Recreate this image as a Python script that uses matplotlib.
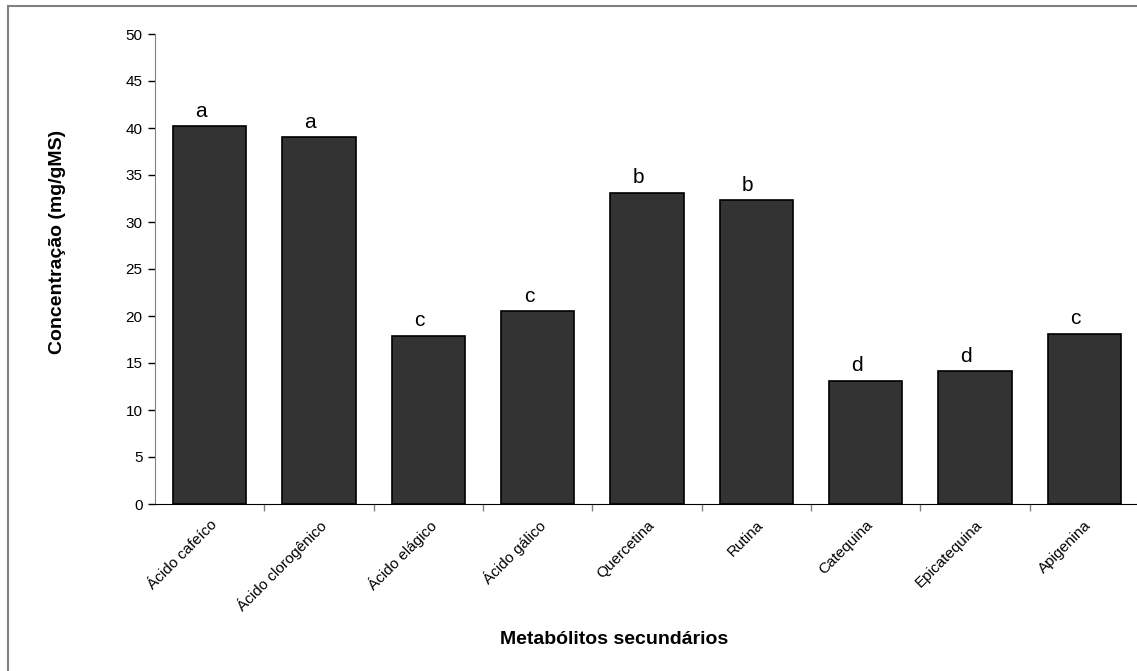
import matplotlib
matplotlib.use("Agg")
import matplotlib.pyplot as plt
from matplotlib.patches import Rectangle

plt.rcParams['font.family'] = ['Liberation Sans', 'DejaVu Sans']

# dados do grafico
metabolitos = ['Ácido cafeíco', 'Ácido clorogênico', 'Ácido elágico', 'Ácido gálico',
               'Quercetina', 'Rutina', 'Catequina', 'Epicatequina', 'Apigenina']
concentracao = [40.2, 39.0, 17.9, 20.5, 33.1, 32.3, 13.1, 14.1, 18.1]
letras = ['a', 'a', 'c', 'c', 'b', 'b', 'd', 'd', 'c']

fig = plt.figure(figsize=(11.37, 6.71), dpi=100)
ax = fig.add_axes([155 / 1137, 167 / 671, 984 / 1137, 470 / 671])

x = list(range(len(metabolitos)))
ax.bar(x, concentracao, width=0.67, color='#333333', edgecolor='black', linewidth=1.2)

# letras de significancia acima das barras
for xi, v, l in zip(x, concentracao, letras):
    ax.annotate(l, (xi - 0.08, v), xytext=(0, 4), textcoords='offset points',
                ha='center', va='bottom', fontsize=15)

ax.set_xlim(-0.5, len(metabolitos) - 0.5)
ax.set_ylim(0, 50)
ax.set_yticks(range(0, 51, 5))
ax.tick_params(axis='y', labelsize=11, length=5, width=1, color='black', pad=4)

ax.set_xticks(x)
ax.set_xticklabels(metabolitos, rotation=45, ha='right', rotation_mode='anchor', fontsize=11)
ax.tick_params(axis='x', which='major', length=0, pad=10)
ax.set_xticks([i + 0.5 for i in x], minor=True)
ax.tick_params(axis='x', which='minor', length=5, width=1, color='#808080')

for s in ['top', 'right']:
    ax.spines[s].set_visible(False)
ax.spines['left'].set_color('#808080')
ax.spines['bottom'].set_color('black')

fig.text(614 / 1137, 1 - 640 / 671, 'Metabólitos secundários', ha='center', va='center',
         fontsize=14, fontweight='bold')
fig.text(57 / 1137, 1 - 242 / 671, 'Concentração (mg/gMS)', ha='center', va='center',
         rotation=90, fontsize=14, fontweight='bold')

# moldura do grafico (cortada a direita e embaixo)
fig.patches.append(Rectangle((8 / 1137, -0.1), 1.2, 0.1 + 1 - 6 / 671, transform=fig.transFigure,
                             fill=False, edgecolor='#808080', linewidth=1.5, clip_on=False))

fig.savefig('out.png', dpi=100)
